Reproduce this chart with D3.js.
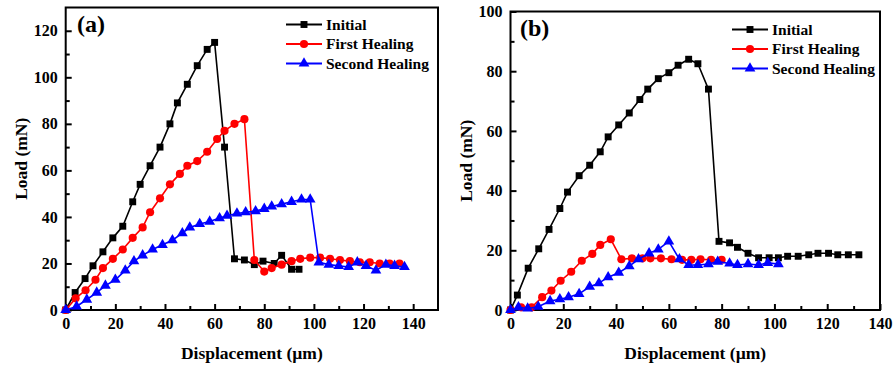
<!DOCTYPE html>
<html>
<head>
<meta charset="utf-8">
<script src="https://cdn.jsdelivr.net/npm/d3@7"></script>
<style>
  html, body { margin: 0; padding: 0; background: #fff; }
  svg { display: block; font-family: "Liberation Serif", "Times New Roman", serif; font-weight: bold; }
  .tick text { font-family: "Liberation Serif", "Times New Roman", serif; font-size: 16px; font-weight: bold; fill: #000; }
  .tick line { stroke: #000; stroke-width: 2; }
</style>
</head>
<body>
<div id="chart"></div>
<script>
  // series names / colours
  var seriesNames = ['Initial', 'First Healing', 'Second Healing'];
  var seriesColors = ['#000000', '#ff0000', '#0000ff'];
  var seriesShapes = ['square', 'circle', 'triangle'];

  // panel (a) : [displacement um, load mN]
  var initialA = [[0,0],[3.8,7.5],[7.8,13.5],[11,19],[15,25],[19,31],[23,36],[27,46.5],[30,54],[34,62],[38,70],
    [42,80],[45,89],[49,97],[53,105],[57,112],[60,115],[64,70],[68,22],[72,21.5],[76,19.5],[79.5,21],
    [84,20],[87,23.5],[91,17.5],[94,17.5]];
  var firstA = [[0,0],[4,5],[8,8.5],[12,13],[15,18],[19,22],[23,26],[27,31],[31,35.5],[34,42],[38,48],[42,54],
    [46,58.5],[49,62],[53,64],[57,68],[61,73.5],[64,77],[68,80],[72,82],[76,21.5],[80,16.5],[83,18],[87,19.5],
    [91,21],[94.5,22],[98.5,22.5],[102.5,22.5],[106.5,22],[110.5,21.5],[114.5,21],[118.5,20.5],[122.5,20.5],
    [126.5,20],[130.5,20],[134.5,20]];
  var secondA = [[0,0],[4.4,1.5],[8.5,4.5],[12.5,7.5],[16,10.5],[20,13],[24,17],[27.5,21],[31,23.5],[35,26],
    [39,28],[43,30],[47,33],[50,35.5],[54,37],[58,38],[62,39.5],[65,40.5],[69,41.5],[72.5,42],[76.5,42.5],
    [80,43.5],[83,44.5],[87,45.5],[91,46.5],[95,47.5],[98.5,47.5],[102,20.5],[106,19.5],[110,19],[114,18.5],
    [117.5,20.5],[121,19],[125,17],[129,19.5],[132.5,19],[136.5,18.5]];

  // panel (b)
  var initialB = [[0,0],[2.6,5],[6.7,14],[10.7,20.5],[14.6,27],[18.7,34],[21.6,39.5],[26,45],[30,48.5],[34,53],
    [37,58],[41,62],[45,66],[49,70.5],[52,74],[56,77.5],[60,79.5],[63.5,82],[67.5,84],[71,82.5],[75,74],
    [79,23],[83,22.5],[86,21],[90,19],[94,17.5],[98,17.5],[101.5,17.5],[105,18],[109,18],[113,18.5],
    [116.5,19],[120.5,19],[124,18.5],[128,18.5],[132,18.5]];
  var firstB = [[0,0],[4,0.9],[8,0.9],[12,4.3],[15.5,6.5],[19,9.8],[23,12.8],[27,16.5],[31,18.8],[34,21.8],
    [38,23.7],[42,17],[46,17.3],[50,17.3],[53,17.3],[57,17.3],[61,17],[65,16.8],[68.5,16.8],[72,17],
    [76,16.8],[80,16.8]];
  var secondB = [[0,0],[3,0.9],[6.5,0.5],[10.5,1.1],[15,3],[18.7,3.6],[22,4.3],[26,5.4],[30,7.8],[33.5,9],
    [37,11],[41,12.5],[45,14.7],[48.5,17],[52.5,19],[56,20.3],[60,23],[64,17],[67.5,15.1],[71,15.1],
    [75,15.4],[78.5,16.2],[83,15.6],[86,15.1],[90,15.4],[94,15.1],[97.5,15.8],[101.5,15.4]];

  // axis ticks
  var xTicks = [0, 20, 40, 60, 80, 100, 120, 140];
  var yTicksA = [0, 20, 40, 60, 80, 100, 120];
  var yTicksB = [0, 20, 40, 60, 80, 100];

  var svg = d3.select('#chart').append('svg').attr('width', 893).attr('height', 369);

  drawPanel({
    left: 65.7, right: 438, top: 7.5, bottom: 310,
    xMax: 150, yMax: 130, yTicks: yTicksA,
    series: [initialA, firstA, secondA],
    label: '(a)', labelX: 77, labelY: 32,
    legendX: 286, legendY: 24.5,
    yTitleX: 21
  });

  drawPanel({
    left: 510.5, right: 880, top: 11.5, bottom: 310,
    xMax: 140, yMax: 100, yTicks: yTicksB,
    series: [initialB, firstB, secondB],
    label: '(b)', labelX: 520, labelY: 36,
    legendX: 732, legendY: 29.5,
    yTitleX: 466
  });

  function drawPanel(cfg) {
    var x = d3.scaleLinear().domain([0, cfg.xMax]).range([cfg.left, cfg.right]);
    var y = d3.scaleLinear().domain([0, cfg.yMax]).range([cfg.bottom, cfg.top]);
    var g = svg.append('g');

    // minor ticks every 10
    g.append('g').attr('transform', 'translate(0,' + cfg.bottom + ')')
      .call(d3.axisBottom(x).tickValues(d3.range(10, cfg.xMax, 20)).tickSize(-4).tickFormat(''))
      .call(function (s) { s.select('.domain').remove(); });
    g.append('g').attr('transform', 'translate(' + cfg.left + ',0)')
      .call(d3.axisLeft(y).tickValues(d3.range(10, cfg.yMax, 20)).tickSize(-4).tickFormat(''))
      .call(function (s) { s.select('.domain').remove(); });

    // major ticks
    g.append('g').attr('transform', 'translate(0,' + cfg.bottom + ')')
      .call(d3.axisBottom(x).tickValues(xTicks).tickSize(-6).tickPadding(8))
      .call(function (s) { s.select('.domain').remove(); });
    g.append('g').attr('transform', 'translate(' + cfg.left + ',0)')
      .call(d3.axisLeft(y).tickValues(cfg.yTicks).tickSize(-6).tickPadding(8))
      .call(function (s) { s.select('.domain').remove(); });

    // frame
    g.append('rect')
      .attr('x', cfg.left).attr('y', cfg.top)
      .attr('width', cfg.right - cfg.left).attr('height', cfg.bottom - cfg.top)
      .attr('fill', 'none').attr('stroke', '#000').attr('stroke-width', 2);

    var line = d3.line().x(function (d) { return x(d[0]); }).y(function (d) { return y(d[1]); });

    cfg.series.forEach(function (data, i) {
      g.append('path').datum(data)
        .attr('d', line).attr('fill', 'none')
        .attr('stroke', seriesColors[i]).attr('stroke-width', 1.6);
      g.selectAll('.m' + i).data(data).enter().append('path')
        .attr('class', 'm' + i)
        .attr('transform', function (d) { return 'translate(' + x(d[0]) + ',' + y(d[1]) + ')'; })
        .attr('d', marker(seriesShapes[i]))
        .attr('fill', seriesColors[i]);
    });

    // legend
    seriesNames.forEach(function (name, i) {
      var ly = cfg.legendY + i * 19.5;
      g.append('line').attr('x1', cfg.legendX).attr('x2', cfg.legendX + 36)
        .attr('y1', ly).attr('y2', ly)
        .attr('stroke', seriesColors[i]).attr('stroke-width', 2);
      g.append('path').attr('transform', 'translate(' + (cfg.legendX + 18) + ',' + ly + ')')
        .attr('d', marker(seriesShapes[i])).attr('fill', seriesColors[i]);
      g.append('text').attr('x', cfg.legendX + 40).attr('y', ly).attr('dy', '0.35em')
        .attr('font-size', 15.5).text(name);
    });

    g.append('text').attr('x', cfg.labelX).attr('y', cfg.labelY)
      .attr('font-size', 24).text(cfg.label);

    g.append('text')
      .attr('x', (cfg.left + cfg.right) / 2).attr('y', 359)
      .attr('text-anchor', 'middle').attr('font-size', 17.5)
      .text('Displacement (\u00b5m)');

    g.append('text')
      .attr('transform', 'translate(' + cfg.yTitleX + ',' + ((cfg.top + cfg.bottom) / 2) + ') rotate(-90)')
      .attr('text-anchor', 'middle').attr('dy', '0.35em').attr('font-size', 17.5)
      .text('Load (mN)');
  }

  function marker(shape) {
    if (shape === 'square') return d3.symbol(d3.symbolSquare, 48)();
    if (shape === 'circle') return d3.symbol(d3.symbolCircle, 52)();
    return d3.symbol(d3.symbolTriangle, 50)();
  }
</script>
</body>
</html>
